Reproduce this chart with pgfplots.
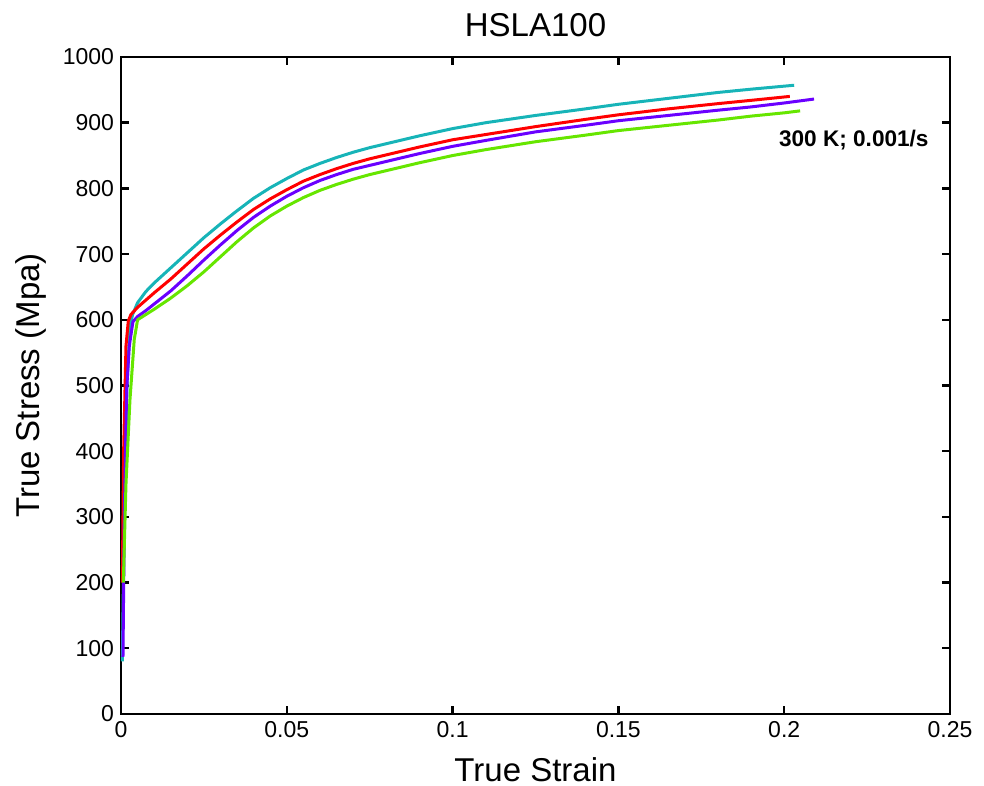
\documentclass[border=0pt]{standalone}
\usepackage{fontspec}
\setmainfont{Liberation Sans}
\usepackage{pgfplots}
\pgfplotsset{compat=1.18}
\usetikzlibrary{calc}
\definecolor{ccyan}{RGB}{23,180,184}
\definecolor{cred}{RGB}{255,0,0}
\definecolor{cpurple}{RGB}{106,0,255}
\definecolor{cgreen}{RGB}{102,230,0}
\begin{document}
\begin{tikzpicture}
\begin{axis}[
  scale only axis,
  width=414.5pt, height=328.5pt,
  xmin=0, xmax=0.25, ymin=0, ymax=1000,
  xtick={0,0.05,0.1,0.15,0.2,0.25},
  ytick={0,100,...,1000},
  tick align=inside,
  major tick length=4pt,
  axis line style={line width=1.4pt},
  every tick/.style={black, line width=1.2pt},
  /pgf/number format/assume math mode=true,
  xticklabel style={/pgf/number format/fixed, /pgf/number format/precision=2},
  yticklabel style={/pgf/number format/1000 sep={}},
  tick label style={font=\fontsize{11.5}{14}\selectfont},
  every axis x label/.style={at={(axis description cs:0.5,0)}, anchor=center, yshift=-28pt, inner sep=0pt, font=\fontsize{16.5}{19}\selectfont},
  every axis y label/.style={at={(axis description cs:0,0.5)}, anchor=center, rotate=90, yshift=45pt, inner sep=0pt, font=\fontsize{16.5}{19}\selectfont},
  every axis title/.style={at={(axis description cs:0.5,1)}, anchor=center, yshift=16pt, inner sep=0pt, font=\fontsize{16.5}{19}\selectfont},
  xlabel={True Strain},
  ylabel={True Stress (Mpa)},
  title={HSLA100},
  every axis plot/.style={line width=1.5pt, no markers, line join=round},
]
\addplot[ccyan] coordinates {
(0.0004,80) (0.0010,300) (0.0018,500) (0.0027,590) (0.0035,608) (0.005,626) (0.0075,643) (0.01,656) (0.015,679) (0.02,702) (0.025,725) (0.03,746) (0.035,766) (0.04,785) (0.045,801) (0.05,815) (0.055,828) (0.06,838) (0.065,847) (0.07,855) (0.075,862) (0.08,868) (0.09,880) (0.1,891) (0.11,900) (0.125,911) (0.14,921) (0.15,928) (0.165,937) (0.18,946) (0.19,951) (0.203,957)
};
\addplot[cred] coordinates {
(0.0004,200) (0.0008,400) (0.0015,560) (0.0022,598) (0.003,608) (0.005,619) (0.0075,630) (0.01,641) (0.015,662) (0.02,685) (0.025,708) (0.03,729) (0.035,749) (0.04,768) (0.045,784) (0.05,798) (0.055,811) (0.06,821) (0.065,830) (0.07,838) (0.075,845) (0.08,851) (0.09,863) (0.1,874) (0.11,882) (0.125,894) (0.14,905) (0.15,912) (0.165,921) (0.18,929) (0.19,934) (0.2017,940)
};
\addplot[cpurple] coordinates {
(0.0006,87) (0.0010,300) (0.0017,493) (0.0025,560) (0.0036,597) (0.005,605) (0.0075,614) (0.01,624) (0.015,644) (0.02,667) (0.025,691) (0.03,714) (0.035,736) (0.04,756) (0.045,773) (0.05,788) (0.055,801) (0.06,812) (0.065,821) (0.07,829) (0.075,835) (0.08,841) (0.09,853) (0.1,864) (0.11,873) (0.125,886) (0.14,896) (0.15,903) (0.165,911) (0.18,919) (0.19,924) (0.2,930) (0.209,936)
};
\addplot[cgreen] coordinates {
(0.0007,200) (0.0015,350) (0.0027,478) (0.004,570) (0.005,600) (0.0075,608) (0.01,616) (0.015,633) (0.02,652) (0.025,673) (0.03,696) (0.035,719) (0.04,740) (0.045,758) (0.05,773) (0.055,786) (0.06,797) (0.065,806) (0.07,814) (0.075,821) (0.08,827) (0.09,839) (0.1,850) (0.11,859) (0.125,871) (0.14,881) (0.15,888) (0.165,896) (0.18,904) (0.19,910) (0.2,915) (0.2048,918)
};
\node[font=\bfseries\fontsize{11.3}{13}\selectfont] at (axis cs:0.2210,874) {300 K; 0.001/s};
\end{axis}
\pgfresetboundingbox
\path[use as bounding box] ($(current axis.south west)+(-60.5pt,-36pt)$) rectangle ($(current axis.north east)+(17pt,28.5pt)$);
\end{tikzpicture}
\end{document}
